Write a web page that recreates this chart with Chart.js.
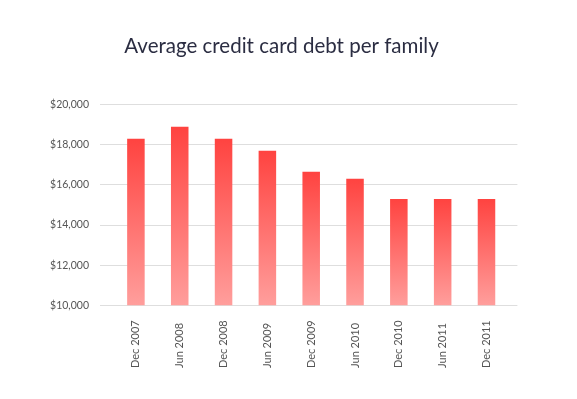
<!DOCTYPE html>
<html>
<head>
<meta charset="utf-8">
<script src="https://cdn.jsdelivr.net/npm/chart.js@4"></script>
<style>
  html, body { margin: 0; padding: 0; background: #fff; }
  #wrap { width: 577px; height: 399px; }
</style>
</head>
<body>
<div id="wrap"><canvas id="debtChart" width="577" height="399"></canvas></div>
<script>
// Chart data
const periods = ['Dec 2007', 'Jun 2008', 'Dec 2008', 'Jun 2009', 'Dec 2009', 'Jun 2010', 'Dec 2010', 'Jun 2011', 'Dec 2011'];
const avgDebt = [18300, 18900, 18300, 17700, 16650, 16300, 15300, 15300, 15300];
const yTicks = [10000, 12000, 14000, 16000, 18000, 20000];

const gridColor = '#dedede';
const labelFont = { family: 'Lato', size: 11 };

// Per-bar vertical gradient: strong red on top, pale pink at the base
function barGradient(context) {
    const chart = context.chart;
    const yScale = chart.scales.y;
    if (!yScale || !context.parsed) return '#ff5a55';
    const top = yScale.getPixelForValue(context.parsed.y);
    const bottom = yScale.getPixelForValue(yTicks[0]);
    if (!isFinite(top) || !isFinite(bottom) || top === bottom) return '#ff5a55';
    const g = chart.ctx.createLinearGradient(0, top, 0, bottom);
    g.addColorStop(0, '#ff4340');
    g.addColorStop(1, '#ff9e9c');
    return g;
}

// Rotated x labels start at the same baseline (bottom), like the original
const bottomAlignLabels = {
    id: 'bottomAlignLabels',
    beforeDraw(chart) {
        const scale = chart.scales.x;
        const items = scale.getLabelItems();
        const widest = scale._getLabelSizes().widest.width;
        items.forEach(item => {
            item.options.textAlign = 'left';
            item.options.translation[1] = scale.top + scale.options.ticks.padding + widest;
        });
    }
};

new Chart(document.getElementById('debtChart').getContext('2d'), {
    type: 'bar',
    data: {
        labels: periods,
        datasets: [{
            label: 'Average credit card debt',
            data: avgDebt,
            backgroundColor: barGradient,
            borderWidth: 0,
            barPercentage: 0.4,
            categoryPercentage: 1
        }]
    },
    options: {
        responsive: false,
        animation: false,
        devicePixelRatio: 1,
        layout: { padding: { left: 0, right: 14, top: 0, bottom: 0 } },
        plugins: {
            legend: { display: false },
            tooltip: { enabled: false },
            title: {
                display: true,
                text: 'Average credit card debt per family',
                color: '#2b2d42',
                font: { family: 'Lato', size: 20.5, weight: 'normal' },
                padding: { top: 34, bottom: 46 }
            }
        },
        scales: {
            x: {
                grid: { display: false },
                border: { display: false },
                ticks: {
                    color: '#555',
                    font: labelFont,
                    minRotation: 90,
                    maxRotation: 90,
                    padding: 15,
                    autoSkip: false
                },
                afterFit: scale => { scale.height = 93.7; }
            },
            y: {
                min: 10000,
                max: 20000,
                grid: { color: gridColor, lineWidth: 1, tickLength: 14 },
                border: { display: false },
                ticks: {
                    stepSize: 2000,
                    color: '#555',
                    font: { family: 'Lato', size: 10.5 },
                    padding: 11,
                    callback: v => '$' + v.toLocaleString('en-US')
                },
                afterFit: scale => { scale.width = 114; }
            },
            // Right-side stub so the grid lines run a little past the last bar
            y2: {
                position: 'right',
                min: 10000,
                max: 20000,
                grid: { color: gridColor, lineWidth: 1, tickLength: 9, drawOnChartArea: false },
                border: { display: false },
                ticks: { stepSize: 2000, display: false },
                afterFit: scale => { scale.width = 54.6; }
            }
        }
    },
    plugins: [bottomAlignLabels]
});
</script>
</body>
</html>
